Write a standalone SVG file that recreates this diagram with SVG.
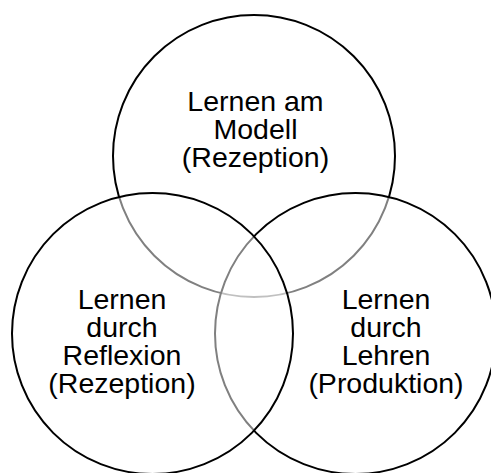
<svg xmlns="http://www.w3.org/2000/svg" width="491" height="473" viewBox="0 0 491 473">
<style>
.c{fill:#fff;fill-opacity:0.5;stroke:#000;stroke-width:2}
.t{font-family:"Liberation Sans",Arial,sans-serif;font-size:28.5px;fill:#000;text-anchor:middle}
</style>
<rect width="491" height="473" fill="#fff"/>
<g id="top">
<circle class="c" cx="254" cy="156" r="141"/>
<text class="t" x="255.5" y="110.5">Lernen am</text>
<text class="t" x="255.5" y="138.5">Modell</text>
<text class="t" x="255.5" y="166.5">(Rezeption)</text>
</g>
<g id="right">
<circle class="c" cx="355.5" cy="333.5" r="140.5"/>
<text class="t" x="386" y="309">Lernen</text>
<text class="t" x="386" y="337">durch</text>
<text class="t" x="386" y="365">Lehren</text>
<text class="t" x="386" y="393">(Produktion)</text>
</g>
<g id="left">
<circle class="c" cx="152.5" cy="333.5" r="140.5"/>
<text class="t" x="122" y="309">Lernen</text>
<text class="t" x="122" y="337">durch</text>
<text class="t" x="122" y="365">Reflexion</text>
<text class="t" x="122" y="393">(Rezeption)</text>
</g>
<g id="connectors"></g>
</svg>
